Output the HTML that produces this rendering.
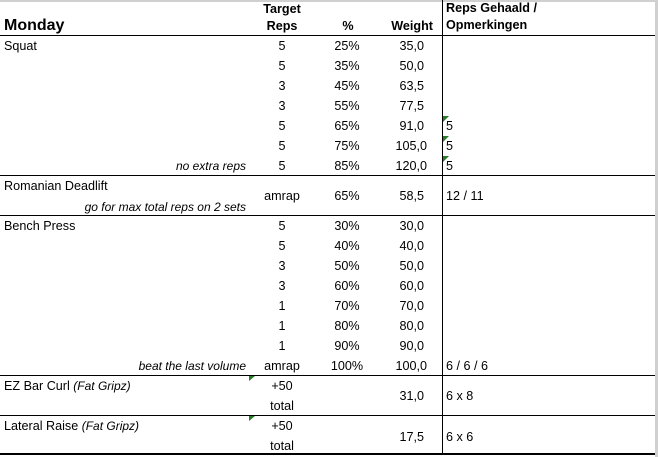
<!DOCTYPE html>
<html><head><style>
body{margin:0;width:658px;height:457px;background:#fff;position:relative;overflow:hidden;font-family:"Liberation Sans",Arial,sans-serif;font-size:12.6px;color:#000}
div{position:absolute;white-space:nowrap;line-height:14px}
.c{transform:translateX(-50%)}
.r{transform:translateX(-100%)}
.i{font-style:italic;font-size:12px}
.h{position:absolute;left:0;width:655px;height:1px;background:#000}
.tri{width:0;height:0;border-top:6px solid #2a7a2a;border-right:6px solid transparent}
</style></head><body>
<div style="left:0;top:0;width:658px;height:2px;background:#d0d0d0"></div>
<div style="left:655px;top:0;width:3px;height:457px;background:#d0d0d0"></div>
<div style="left:442px;top:0;width:1px;height:454px;background:#000"></div>
<div class="h" style="top:35px"></div>
<div class="h" style="top:175px"></div>
<div class="h" style="top:215px"></div>
<div class="h" style="top:375px"></div>
<div class="h" style="top:415px"></div>
<div class="h" style="top:453px;height:2px"></div>

<div style="left:4px;top:17px;font-size:16px;font-weight:bold;line-height:18px">Monday</div>
<div class="c" style="left:282px;top:2px;font-weight:bold">Target</div>
<div class="c" style="left:282px;top:19px;font-weight:bold">Reps</div>
<div class="c" style="left:348px;top:19px;font-weight:bold">%</div>
<div class="r" style="left:433px;top:19px;font-weight:bold">Weight</div>
<div style="left:446px;top:1px;font-weight:bold">Reps Gehaald /</div>
<div style="left:446px;top:18px;font-weight:bold">Opmerkingen</div>

<div style="left:4px;top:39px">Squat</div>
<div class="c" style="left:282px;top:39px">5</div><div class="c" style="left:347px;top:39px">25%</div><div class="r" style="left:424px;top:39px">35,0</div>
<div class="c" style="left:282px;top:59px">5</div><div class="c" style="left:347px;top:59px">35%</div><div class="r" style="left:424px;top:59px">50,0</div>
<div class="c" style="left:282px;top:79px">3</div><div class="c" style="left:347px;top:79px">45%</div><div class="r" style="left:424px;top:79px">63,5</div>
<div class="c" style="left:282px;top:99px">3</div><div class="c" style="left:347px;top:99px">55%</div><div class="r" style="left:424px;top:99px">77,5</div>
<div class="c" style="left:282px;top:119px">5</div><div class="c" style="left:347px;top:119px">65%</div><div class="r" style="left:424px;top:119px">91,0</div>
<div class="c" style="left:282px;top:139px">5</div><div class="c" style="left:347px;top:139px">75%</div><div class="r" style="left:427px;top:139px">105,0</div>
<div class="r i" style="left:246px;top:159px">no extra reps</div>
<div class="c" style="left:282px;top:159px">5</div><div class="c" style="left:347px;top:159px">85%</div><div class="r" style="left:427px;top:159px">120,0</div>
<div class="tri" style="left:443px;top:116px"></div><div style="left:446px;top:119px">5</div>
<div class="tri" style="left:443px;top:136px"></div><div style="left:446px;top:139px">5</div>
<div class="tri" style="left:443px;top:156px"></div><div style="left:446px;top:159px">5</div>

<div style="left:4px;top:179px">Romanian Deadlift</div>
<div class="r i" style="left:246px;top:200px">go for max total reps on 2 sets</div>
<div class="c" style="left:282px;top:189px">amrap</div><div class="c" style="left:347px;top:189px">65%</div><div class="r" style="left:424px;top:189px">58,5</div>
<div style="left:446px;top:189px">12 / 11</div>

<div style="left:4px;top:219px">Bench Press</div>
<div class="c" style="left:282px;top:219px">5</div><div class="c" style="left:347px;top:219px">30%</div><div class="r" style="left:424px;top:219px">30,0</div>
<div class="c" style="left:282px;top:239px">5</div><div class="c" style="left:347px;top:239px">40%</div><div class="r" style="left:424px;top:239px">40,0</div>
<div class="c" style="left:282px;top:259px">3</div><div class="c" style="left:347px;top:259px">50%</div><div class="r" style="left:424px;top:259px">50,0</div>
<div class="c" style="left:282px;top:279px">3</div><div class="c" style="left:347px;top:279px">60%</div><div class="r" style="left:424px;top:279px">60,0</div>
<div class="c" style="left:282px;top:299px">1</div><div class="c" style="left:347px;top:299px">70%</div><div class="r" style="left:424px;top:299px">70,0</div>
<div class="c" style="left:282px;top:319px">1</div><div class="c" style="left:347px;top:319px">80%</div><div class="r" style="left:424px;top:319px">80,0</div>
<div class="c" style="left:282px;top:339px">1</div><div class="c" style="left:347px;top:339px">90%</div><div class="r" style="left:424px;top:339px">90,0</div>
<div class="r i" style="left:246px;top:359px">beat the last volume</div>
<div class="c" style="left:282px;top:359px">amrap</div><div class="c" style="left:347px;top:359px">100%</div><div class="r" style="left:427px;top:359px">100,0</div>
<div style="left:446px;top:359px">6 / 6 / 6</div>

<div style="left:4px;top:379px">EZ Bar Curl <span class="i">(Fat Gripz)</span></div>
<div class="tri" style="left:249px;top:376px;border-top-width:5px"></div>
<div class="c" style="left:282px;top:379px">+50</div>
<div class="c" style="left:282px;top:399px">total</div>
<div class="r" style="left:424px;top:389px">31,0</div>
<div style="left:446px;top:389px">6 x 8</div>

<div style="left:4px;top:419px">Lateral Raise <span class="i">(Fat Gripz)</span></div>
<div class="tri" style="left:249px;top:416px;border-top-width:5px"></div>
<div class="c" style="left:282px;top:419px">+50</div>
<div class="c" style="left:282px;top:439px">total</div>
<div class="r" style="left:424px;top:430px">17,5</div>
<div style="left:446px;top:430px">6 x 6</div>
</body></html>
